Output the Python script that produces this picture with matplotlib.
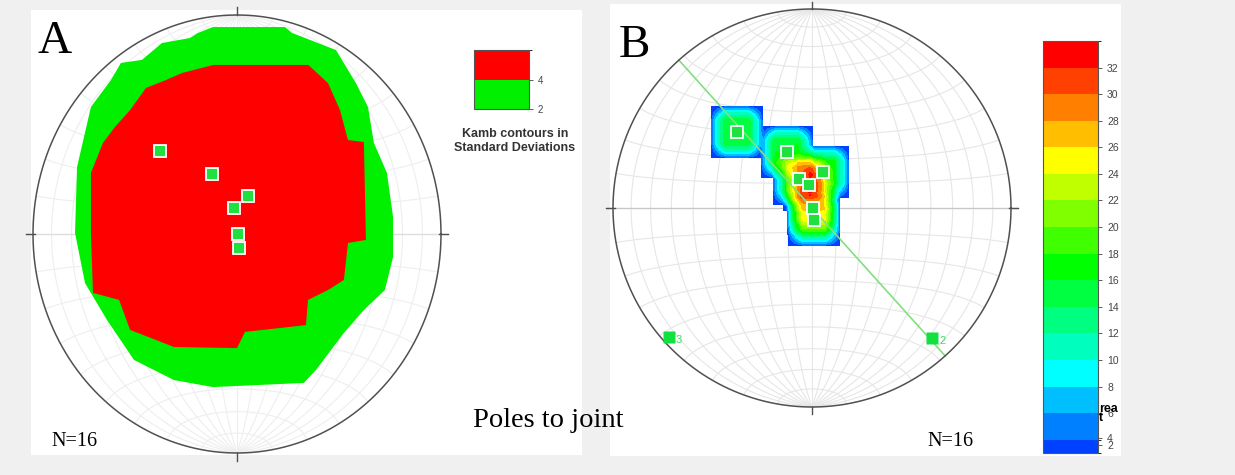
import numpy as np
import matplotlib
matplotlib.use('Agg')
import matplotlib.pyplot as plt
from matplotlib.patches import Rectangle
from matplotlib.colors import ListedColormap, BoundaryNorm
import matplotlib.colorbar as mcolorbar

W, H, DPI = 1235, 475, 100

# ---------------- data ----------------
# Panel A : Kamb contour boundaries (net coordinates, primitive = unit circle)
a_green_x = [-0.118, 0.235, 0.27, 0.485, 0.583, 0.642, 0.671, 0.735, 0.765, 0.765, 0.725, 0.622,
             0.524, 0.387, 0.328, -0.118, -0.309, -0.505, -0.637, -0.745, -0.794, -0.784, -0.716,
             -0.618, -0.569, -0.466, -0.368, -0.230, -0.191]
a_green_y = [0.945, 0.945, 0.918, 0.840, 0.689, 0.580, 0.416, 0.279, 0.078, -0.105, -0.256, -0.347,
             -0.452, -0.621, -0.680, -0.699, -0.667, -0.575, -0.393, -0.224, 0.005, 0.306, 0.580,
             0.703, 0.781, 0.795, 0.872, 0.895, 0.918]
a_red_x = [-0.116, 0.350, 0.446, 0.505, 0.544, 0.622, 0.632, 0.544, 0.524, 0.446, 0.348, 0.338,
           0.039, 0.0, -0.309, -0.524, -0.578, -0.706, -0.716, -0.716, -0.657, -0.598, -0.524,
           -0.446, -0.348, -0.270]
a_red_y = [0.772, 0.772, 0.689, 0.566, 0.429, 0.420, -0.027, -0.041, -0.210, -0.256, -0.301, -0.416,
           -0.447, -0.521, -0.516, -0.438, -0.301, -0.269, 0.005, 0.279, 0.416, 0.489, 0.566,
           0.667, 0.703, 0.735]
a_levels = [2, 4, 6]
a_level_colors = ['#00f000', '#ff0000']
a_pole_x = [-0.377, -0.123, 0.054, -0.015, 0.005, 0.010]
a_pole_y = [0.379, 0.274, 0.174, 0.119, 0.0, -0.064]

# Panel B : poles, best-fit plane, axes 2 and 3, density levels
b_pole_x = [-0.377, -0.126, 0.055, -0.065, -0.015, 0.005, 0.010]
b_pole_y = [0.382, 0.281, 0.181, 0.146, 0.116, 0.0, -0.060]
b_axis_labels = ['2', '3']
b_axis_x = [0.603, -0.719]
b_axis_y = [-0.653, -0.648]
b_plane_strike = 318.0
b_levels = [2, 4, 6, 8, 10, 12, 14, 16, 18, 20, 22, 24, 26, 28, 30, 32, 34]
b_colors = ['#0040ff', '#0080ff', '#00bfff', '#00ffff', '#00ffbf', '#00ff80', '#00ff40', '#00ff00',
            '#40ff00', '#80ff00', '#bfff00', '#ffff00', '#ffbf00', '#ff8000', '#ff4000', '#ff0000']
b_cbar_bounds = [3, 4, 6, 8, 10, 12, 14, 16, 18, 20, 22, 24, 26, 28, 30, 32, 34]
b_cbar_tickpos = [3.6, 4.1, 6, 8, 10, 12, 14, 16, 18, 20, 22, 24, 26, 28, 30, 32]
b_cbar_ticklabels = ['2', '4', '6', '8', '10', '12', '14', '16', '18', '20', '22', '24', '26',
                     '28', '30', '32']
n_label = 'N=16'

# counting window (net units): separable ramp, full weight inside k_inner, zero beyond k_outer
k_peak, k_gamma, k_inner, k_outer, k_box, k_floor = 16.0, 0.65, 0.055, 0.136, 0.13, 2.5

# ---------------- helpers ----------------
fig = plt.figure(figsize=(W / DPI, H / DPI), dpi=DPI)
fig.patch.set_facecolor('#f0f0f0')


def fx(px):
    return px / W


def fy(py):
    return 1 - py / H


def panel(x0, y0, x1, y1):
    fig.add_artist(Rectangle((fx(x0), fy(y1)), fx(x1) - fx(x0), fy(y0) - fy(y1),
                             transform=fig.transFigure, facecolor='white', edgecolor='none',
                             zorder=0))


def net_axes(cx, cy, rx, ry, pad=1.08):
    ax = fig.add_axes([fx(cx - rx * pad), fy(cy + ry * pad), 2 * rx * pad / W, 2 * ry * pad / H])
    ax.set_xlim(-pad, pad)
    ax.set_ylim(-pad, pad)
    ax.axis('off')
    ax.patch.set_alpha(0)
    return ax


def proj(x, y, z):
    f = 1.0 / np.sqrt(1.0 - z)
    return x * f, y * f


def draw_net(ax, gridcol, eqcol):
    t = np.linspace(0, np.pi, 181)
    for d in range(10, 180, 10):
        dr = np.radians(d)
        x = np.sin(t) * np.cos(dr)
        y = np.cos(t)
        z = -np.sin(t) * np.sin(dr)
        X, Y = proj(x, y, z)
        ax.plot(X, Y, color=gridcol, lw=0.8, zorder=1)
    for a in range(10, 180, 10):
        if a == 90:
            continue
        ar = np.radians(a)
        x = np.sin(ar) * np.cos(t)
        y = np.full_like(t, np.cos(ar))
        z = -np.sin(ar) * np.sin(t)
        X, Y = proj(x, y, z)
        ax.plot(X, Y, color=gridcol, lw=0.8, zorder=1)
    ax.plot([-1.03, 1.03], [0, 0], color=eqcol, lw=1.0, zorder=1)


def draw_primitive(ax):
    th = np.linspace(0, 2 * np.pi, 400)
    ax.plot(np.cos(th), np.sin(th), color='#505050', lw=1.1, zorder=6)
    ax.plot([0, 0], [1.0, 1.035], color='#505050', lw=1.0, zorder=6)
    ax.plot([0, 0], [-1.0, -1.035], color='#505050', lw=1.0, zorder=6)
    ax.plot([-1.035, -0.99], [0, 0], color='#505050', lw=1.0, zorder=6)
    ax.plot([0.99, 1.035], [0, 0], color='#505050', lw=1.0, zorder=6)


# ---------------- panels ----------------
panel(31, 10, 582, 455)
panel(610, 4, 1121, 456)

# Panel A
axA = net_axes(237, 234, 204, 219)
draw_net(axA, '#eeeeee', '#dddddd')
axA.fill(a_green_x, a_green_y, color=a_level_colors[0], lw=0, zorder=2)
axA.fill(a_red_x, a_red_y, color=a_level_colors[1], lw=0, zorder=3)
draw_primitive(axA)
axA.plot(a_pole_x, a_pole_y, 's', ms=9, mfc='#20e040', mec='white', mew=1.3, zorder=7)

# legend A
caxA = fig.add_axes([fx(474), fy(109), (529 - 474) / W, (109 - 50) / H])
cbA = mcolorbar.ColorbarBase(caxA, cmap=ListedColormap(a_level_colors),
                             norm=BoundaryNorm(a_levels, 2), boundaries=a_levels,
                             ticks=[2, 4], orientation='vertical')
caxA.tick_params(labelsize=7, colors='#444444', length=3, width=0.6)
for lab in caxA.get_yticklabels():
    lab.set_fontfamily('Liberation Sans')
cbA.outline.set_linewidth(0.8)
cbA.outline.set_edgecolor('#555555')
fig.text(fx(515), fy(141), 'Kamb contours in\nStandard Deviations', ha='center', va='center',
         fontsize=9, fontweight='bold', color='#333333', family='Liberation Sans',
         linespacing=1.2)

# Panel B
axB = net_axes(812, 208, 199, 199)
draw_net(axB, '#e6e6e6', '#c8c8c8')
gx = np.linspace(-1, 1, 601)
GX, GY = np.meshgrid(gx, gx)
px_ = np.array(b_pole_x)
py_ = np.array(b_pole_y)
dx = GX[..., None] - px_
dy = GY[..., None] - py_
wx = np.clip((k_outer - np.abs(dx)) / (k_outer - k_inner), 0, 1)
wy = np.clip((k_outer - np.abs(dy)) / (k_outer - k_inner), 0, 1)
count = (wx * wy).sum(-1)
dens = k_peak * count ** k_gamma
inside = ((np.abs(dx) <= k_box) & (np.abs(dy) <= k_box)).any(-1)
dens = np.where(inside, np.clip(dens, k_floor, 33.9), np.nan)
axB.contourf(GX, GY, dens, levels=b_levels, colors=b_colors, zorder=2)
sr = np.radians(b_plane_strike)
axB.plot([np.sin(sr), -np.sin(sr)], [np.cos(sr), -np.cos(sr)], color='#80e080', lw=1.2, zorder=4)
draw_primitive(axB)
axB.plot(b_pole_x, b_pole_y, 's', ms=9, mfc='#20e040', mec='white', mew=1.3, zorder=7)
axB.plot(b_axis_x, b_axis_y, 's', ms=8, mfc='#10e040', mec='none', zorder=7)
for lx, ly, lt in zip(b_axis_x, b_axis_y, b_axis_labels):
    axB.text(lx + 0.035, ly - 0.015, lt, color='#40dd60', fontsize=8, ha='left', va='center',
             family='Liberation Sans', zorder=8)

# colorbar B
caxB = fig.add_axes([fx(1043), fy(453), (1098 - 1043) / W, (453 - 41) / H])
cbB = mcolorbar.ColorbarBase(caxB, cmap=ListedColormap(b_colors),
                             norm=BoundaryNorm(b_cbar_bounds, len(b_colors)),
                             boundaries=b_cbar_bounds, spacing='proportional',
                             orientation='vertical')
cbB.set_ticks(b_cbar_tickpos)
cbB.set_ticklabels(b_cbar_ticklabels)
caxB.tick_params(labelsize=7.5, colors='#444444', length=3, width=0.6)
for lab in caxB.get_yticklabels():
    lab.set_fontfamily('Liberation Sans')
cbB.outline.set_linewidth(0.8)
cbB.outline.set_edgecolor('#555555')
fig.text(fx(1099), fy(412), 'rea', fontsize=9, fontweight='bold', color='black',
         family='Liberation Sans', ha='left', va='baseline')
fig.text(fx(1099), fy(421), 't', fontsize=9, fontweight='bold', color='black',
         family='Liberation Sans', ha='left', va='baseline')

# texts
serif = 'Liberation Serif'
fig.text(fx(37), fy(53), 'A', fontsize=34, family=serif, ha='left', va='baseline')
fig.text(fx(619), fy(57), 'B', fontsize=34, family=serif, ha='left', va='baseline')
fig.text(fx(51), fy(446), n_label, fontsize=14.5, family=serif, ha='left', va='baseline')
fig.text(fx(927), fy(446), n_label, fontsize=14.5, family=serif, ha='left', va='baseline')
fig.text(fx(473), fy(427), 'Poles to joint', fontsize=20.5, family=serif, ha='left', va='baseline')

fig.savefig('out.png', dpi=DPI, facecolor=fig.get_facecolor())
